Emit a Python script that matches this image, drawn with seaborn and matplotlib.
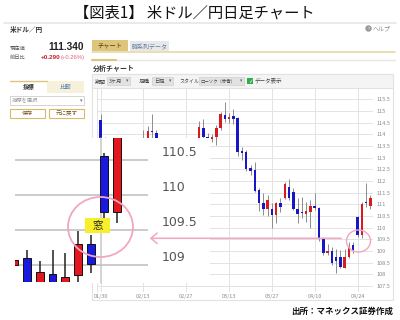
import numpy as np
import matplotlib
matplotlib.use("Agg")
import matplotlib.pyplot as plt
import matplotlib.transforms as mtrans
import seaborn as sns
from matplotlib.patches import Rectangle, Ellipse, FancyArrowPatch

# ---------------- data ----------------
dates = ["01/30", "01/31", "02/01", "02/02", "02/03",
         "02/06", "02/07", "02/08", "02/09", "02/10",
         "02/13", "02/14", "02/15", "02/16", "02/17",
         "02/20", "02/21", "02/22", "02/23", "02/24",
         "02/27", "02/28", "03/01", "03/02", "03/03",
         "03/06", "03/07", "03/08", "03/09", "03/10",
         "03/13", "03/14", "03/15", "03/16", "03/17",
         "03/20", "03/21", "03/22", "03/23", "03/24",
         "03/27", "03/28", "03/29", "03/30", "03/31",
         "04/03", "04/04", "04/05", "04/06", "04/07",
         "04/10", "04/11", "04/12", "04/13", "04/14",
         "04/17", "04/18", "04/19", "04/20", "04/21",
         "04/24", "04/25", "04/26", "04/27"]
opens = [114.62, 113.7, 112.8, 113.2, 112.8, 112.6, 112.0, 112.3, 111.9, 113.2,
         113.3, 113.7, 114.14, 114.04, 113.2, 112.9, 113.1, 113.6, 113.3, 112.7,
         112.15, 112.7, 112.8, 113.75, 114.28, 113.9, 113.79, 113.87, 114.26, 114.83,
         114.64, 114.78, 114.69, 113.29, 113.23, 112.55, 112.47, 111.62, 111.05, 110.8,
         110.8, 110.55, 111.05, 111.29, 111.76, 111.54, 110.8, 110.68, 110.58, 110.66,
         110.94, 110.83, 109.52, 108.9, 109.02, 108.76, 108.76, 108.26, 108.76, 109.26,
         110.47, 109.71, 111.1, 110.94]
highs = [114.86, 113.9, 113.4, 113.3, 113.2, 112.8, 112.5, 112.6, 113.3, 113.8,
         114.18, 114.37, 114.86, 114.18, 113.5, 113.3, 113.75, 113.8, 113.4, 112.9,
         112.9, 112.9, 113.8, 114.57, 114.66, 114.06, 114.01, 114.4, 114.97, 115.4,
         114.9, 115.08, 114.76, 113.44, 113.33, 112.69, 112.8, 111.69, 111.47, 111.4,
         111.05, 111.12, 111.26, 111.97, 112.09, 111.69, 111.26, 111.33, 111.11, 111.19,
         111.47, 110.87, 109.6, 109.29, 109.19, 109.09, 109.05, 109.1, 109.4, 109.4,
         110.5, 111.1, 111.9, 111.4]
lows = [113.5, 112.1, 112.1, 112.5, 112.1, 111.6, 111.6, 111.6, 111.9, 112.9,
        113.2, 113.5, 113.7, 113.1, 112.6, 112.7, 112.9, 113.1, 112.6, 112.1,
        112.1, 112.0, 112.6, 113.6, 113.6, 113.6, 113.67, 113.54, 114.19, 114.54,
        114.47, 114.43, 113.09, 112.9, 112.45, 112.26, 111.55, 110.72, 110.54, 110.51,
        110.0, 110.19, 110.69, 111.25, 111.2, 110.76, 110.19, 110.43, 110.26, 109.98,
        110.76, 109.45, 108.83, 108.83, 108.4, 108.05, 108.26, 108.26, 108.7, 108.9,
        109.6, 109.55, 110.9, 110.8]
closes = [113.7, 112.8, 113.25, 112.8, 112.6, 112.0, 112.3, 111.9, 113.2, 113.3,
          113.7, 114.14, 114.1, 113.2, 112.9, 113.1, 113.6, 113.3, 112.7, 112.15,
          112.7, 112.8, 113.75, 114.33, 113.9, 113.85, 113.9, 114.28, 114.86, 114.64,
          114.76, 114.65, 113.26, 113.19, 112.51, 112.43, 111.57, 111.05, 110.8, 111.19,
          110.55, 111.05, 110.9, 111.86, 111.29, 110.8, 110.58, 110.62, 110.7, 110.94,
          110.83, 109.52, 108.91, 109.0, 108.48, 108.57, 108.33, 108.76, 109.19, 109.05,
          109.71, 111.0, 111.05, 111.26]
tick_labels = ["01/30", "02/13", "02/27", "03/13", "03/27", "04/10", "04/24"]
y_ticks = [107.5, 108, 108.5, 109, 109.5, 110, 110.5, 111, 111.5,
           112, 112.5, 113, 113.5, 114, 114.5, 115, 115.5]

# magnified picture (inset)
inset_open = [109.0, 109.1, 108.7, 108.87, 108.7, 108.86, 109.3, 110.56, 109.75]
inset_high = [109.1, 109.21, 109.05, 109.21, 109.17, 109.49, 109.43, 110.6, 111.1]
inset_low = [108.95, 108.6, 108.6, 108.6, 108.6, 108.7, 108.88, 109.67, 109.6]
inset_close = [109.07, 108.7, 108.9, 108.7, 108.83, 109.3, 109.01, 109.75, 111.0]
inset_ticks = [110.5, 110, 109.5, 109]

# ---------------- style ----------------
sns.set_theme(style="white")
plt.rcParams['font.family'] = ['Noto Sans CJK JP', 'DejaVu Sans']

W, H = 400, 320
fig = plt.figure(figsize=(4, 3.2), dpi=100)
fig.patch.set_facecolor('white')


def fax(x0, y0, x1, y1, z):
    return fig.add_axes([x0 / W, 1 - y1 / H, (x1 - x0) / W, (y1 - y0) / H], zorder=z)


RED, BLUE = '#d61c1c', '#1717c8'
GOLD = '#dfc57c'

# ---------------- background UI ----------------
bg = fax(0, 0, 400, 320, 0)
bg.set_xlim(0, 400); bg.set_ylim(320, 0); bg.axis('off')

bg.text(194, 13.5, "【図表1】 米ドル／円日足チャート", ha='center', va='center',
        fontsize=11, color='#111')
bg.plot([4, 396], [22.5, 22.5], color='#e6e6e6', lw=1.2)
bg.text(10, 29.5, "米ドル／円", ha='left', va='center', fontsize=4.8,
        fontweight='bold', color='#333')
bg.add_patch(Ellipse((368.5, 28.5), 5, 5, color='#9a9a9a'))
bg.text(368.5, 28.6, "?", ha='center', va='center', fontsize=3, color='white',
        family=['DejaVu Sans'])
bg.text(373, 28.5, "ヘルプ", ha='left', va='center', fontsize=4.3, color='#888')

# left panel
bg.text(10, 48, "現在値", ha='left', va='center', fontsize=3.8, color='#555')
bg.text(84, 47.5, "111.340", ha='right', va='center', fontsize=7.3, fontweight='bold',
        color='#222', family=['Liberation Sans'])
bg.text(10, 57.5, "前日比", ha='left', va='center', fontsize=3.8, color='#555')
bg.text(60, 57.5, "+0.290", ha='right', va='center', fontsize=4.6, fontweight='bold',
        color='#cc1f2a', family=['Liberation Sans'])
bg.text(85, 57.5, "(+0.26%)", ha='right', va='center', fontsize=4.2,
        color='#e0607a', family=['Liberation Sans'])

bg.add_patch(Rectangle((47, 81), 37, 12, facecolor='#f7f0da', edgecolor='none'))
bg.plot([10, 47], [81, 81], color=GOLD, lw=1.0)
bg.text(28.5, 87.5, "指標", ha='center', va='center', fontsize=4.2, fontweight='bold', color='#333')
bg.text(65.5, 87.5, "比較", ha='center', va='center', fontsize=4.2, color='#4a78b5')
bg.add_patch(Rectangle((10, 96), 74, 9, facecolor='white', edgecolor='#cfcfcf', lw=0.6))
bg.text(12, 100.6, "指標を選択", ha='left', va='center', fontsize=3.8, color='#9a9a9a')
bg.text(81, 100.6, "▾", ha='center', va='center', fontsize=3.8, color='#777')
bg.add_patch(Rectangle((10, 109), 35, 9, facecolor='white', edgecolor='#d6bb6c', lw=0.8))
bg.add_patch(Rectangle((49, 109), 35, 9, facecolor='white', edgecolor='#d6bb6c', lw=0.8))
bg.text(27.5, 113.6, "保存", ha='center', va='center', fontsize=4.0, color='#7a5a20')
bg.text(66.5, 113.6, "元に戻す", ha='center', va='center', fontsize=4.0, color='#7a5a20')

# right header
bg.add_patch(Rectangle((92, 40), 36, 11, facecolor=GOLD, edgecolor='none'))
bg.text(110, 45.5, "チャート", ha='center', va='center', fontsize=4.5, color='#4a3a10')
bg.add_patch(Rectangle((130, 41), 39, 10, facecolor='#e8e8e8', edgecolor='none'))
bg.text(149.5, 46, "時系列データ", ha='center', va='center', fontsize=4.3, color='#5a78a0')
bg.plot([92, 395], [51.5, 51.5], color='#e8dcaa', lw=1.3)
bg.plot([92, 395], [60, 60], color='#e6e6e6', lw=1.0)
bg.plot([92, 116], [60, 60], color=GOLD, lw=1.5)
bg.text(93, 68, "分析チャート", ha='left', va='center', fontsize=5, fontweight='bold', color='#333')

# chart frame and control bar
bg.add_patch(Rectangle((92, 74), 301, 226, facecolor='white', edgecolor='#e2e2e2', lw=0.8))
bg.add_patch(Rectangle((92, 74), 301, 14, facecolor='#f4f4f4', edgecolor='#e2e2e2', lw=0.8))
bg.text(95, 81, "期間", ha='left', va='center', fontsize=4.0, color='#444')
bg.add_patch(Rectangle((107, 77), 23, 8, facecolor='#e2e2e2', edgecolor='#d0d0d0', lw=0.5))
bg.text(109, 81, "3ヶ月", ha='left', va='center', fontsize=3.8, color='#444')
bg.text(127, 81, "▾", ha='center', va='center', fontsize=3.5, color='#666')
bg.text(139, 81, "足種", ha='left', va='center', fontsize=4.0, color='#444')
bg.add_patch(Rectangle((152, 77), 21, 8, facecolor='#e2e2e2', edgecolor='#d0d0d0', lw=0.5))
bg.text(154, 81, "日足", ha='left', va='center', fontsize=3.8, color='#444')
bg.text(170, 81, "▾", ha='center', va='center', fontsize=3.5, color='#666')
bg.text(179, 81, "スタイル", ha='left', va='center', fontsize=3.6, color='#444')
bg.add_patch(Rectangle((199, 77), 45, 8, facecolor='#e2e2e2', edgecolor='#d0d0d0', lw=0.5))
bg.text(200, 81, "ローソク（赤青）", ha='left', va='center', fontsize=3.2, color='#444')
bg.text(241.5, 81, "▾", ha='center', va='center', fontsize=3.3, color='#666')
bg.add_patch(Rectangle((247, 78), 6, 6, facecolor='#2fae4e', edgecolor='none'))
bg.text(250, 81.2, "✓", ha='center', va='center', fontsize=4, color='white',
        family=['DejaVu Sans'], fontweight='bold')
bg.text(255, 81, "データ表示", ha='left', va='center', fontsize=4.0, color='#444')

bg.text(393, 311, "出所：マネックス証券作成", ha='right', va='center', fontsize=6.1,
        fontweight='bold', color='#111')

# ---------------- main candlestick chart ----------------
ax = fax(96.5, 87.6, 373, 291.5, 1)
ax.set_facecolor('none')
o, h, l, c = map(np.asarray, (opens, highs, lows, closes))
xi = np.arange(len(dates))
up = c >= o
ax.vlines(xi, l, h, color='#8c8c8c', lw=0.7, zorder=2)
ax.bar(xi, np.maximum(np.abs(c - o), 0.035), bottom=np.minimum(o, c), width=0.58,
       color=np.where(up, RED, BLUE), linewidth=0, zorder=3)
ax.set_xlim(-0.98, 63.62)
ax.set_ylim(107.27, 116.0)
ax.set_xticks([dates.index(t) for t in tick_labels])
ax.set_xticklabels(tick_labels)
ax.set_yticks(y_ticks)
ax.set_yticklabels([f"{v:g}" for v in y_ticks])
ax.yaxis.tick_right()
ax.grid(True, color='#e3e3e3', lw=0.7)
ax.set_axisbelow(True)
for s in ['right', 'bottom']:
    ax.spines[s].set_visible(False)
for s in ['top', 'left']:
    ax.spines[s].set_color('#e3e3e3'); ax.spines[s].set_linewidth(0.7)
ax.tick_params(axis='both', length=0, labelsize=4.0, colors='#8a8a8a')
ax.tick_params(axis='x', pad=1.6)
ax.tick_params(axis='y', pad=2.9)

# ---------------- overlay (inset background, pointer) ----------------
ov = fax(0, 0, 400, 320, 2)
ov.set_facecolor('none'); ov.set_xlim(0, 400); ov.set_ylim(320, 0); ov.axis('off')
ov.add_patch(Rectangle((12, 138), 198, 145, facecolor='white', edgecolor='none'))
ov.plot([101, 101], [138, 283], color='#c8c8c8', lw=1.1)

# ---------------- inset (magnified gap) ----------------
ai = fax(15, 138, 148, 282, 3)
ai.set_facecolor('none')
io, ih, il, ic = map(np.asarray, (inset_open, inset_high, inset_low, inset_close))
ii = np.arange(len(io))
iup = ic >= io
ai.vlines(ii, il, ih, color='#222', lw=1.1, zorder=2)
ai.bar(ii, np.maximum(np.abs(ic - io), 0.02), bottom=np.minimum(io, ic), width=0.62,
       color=np.where(iup, '#e3171d', '#1a1ade'), edgecolor='#111', linewidth=0.7, zorder=3)
ai.set_xlim(0.078, 10.44)
ai.set_ylim(108.757, 110.814)
ai.set_yticks(inset_ticks)
ai.set_yticklabels([])
ai.set_xticks([])
ai.grid(True, axis='y', color='#bdbdbd', lw=1.1)
ai.set_axisbelow(True)
for s in ai.spines.values():
    s.set_visible(False)
ai.tick_params(length=0)
lab_tr = mtrans.offset_copy(mtrans.blended_transform_factory(ai.transAxes, ai.transData),
                            fig=fig, y=5.4, units='points')
for v in inset_ticks:
    ai.text((162 - 15) / 133, v, f"{v:g}", transform=lab_tr, ha='left', va='center',
            fontsize=9, color='#555', family=['DejaVu Sans'], clip_on=False)

# ---------------- annotations on top ----------------
top = fax(0, 0, 400, 320, 4)
top.set_facecolor('none'); top.set_xlim(0, 400); top.set_ylim(320, 0); top.axis('off')
PINK = '#f2a6c2'
top.add_patch(Ellipse((100.5, 227), 65, 60, facecolor='none', edgecolor=PINK, lw=1.3))
top.add_patch(Rectangle((85, 218), 25, 15, facecolor='#f6ef2a', edgecolor='none'))
top.text(97.5, 225.8, "窓", ha='center', va='center', fontsize=7.5, color='#222')
top.add_patch(FancyArrowPatch((344, 238.3), (147, 238.3),
                              arrowstyle='->,head_length=0.45,head_width=0.38',
                              mutation_scale=10, color=PINK, lw=1.1))
top.add_patch(Ellipse((358.5, 241), 24, 22, facecolor='none', edgecolor=PINK, lw=1.0))

fig.savefig("out.png", dpi=100)
